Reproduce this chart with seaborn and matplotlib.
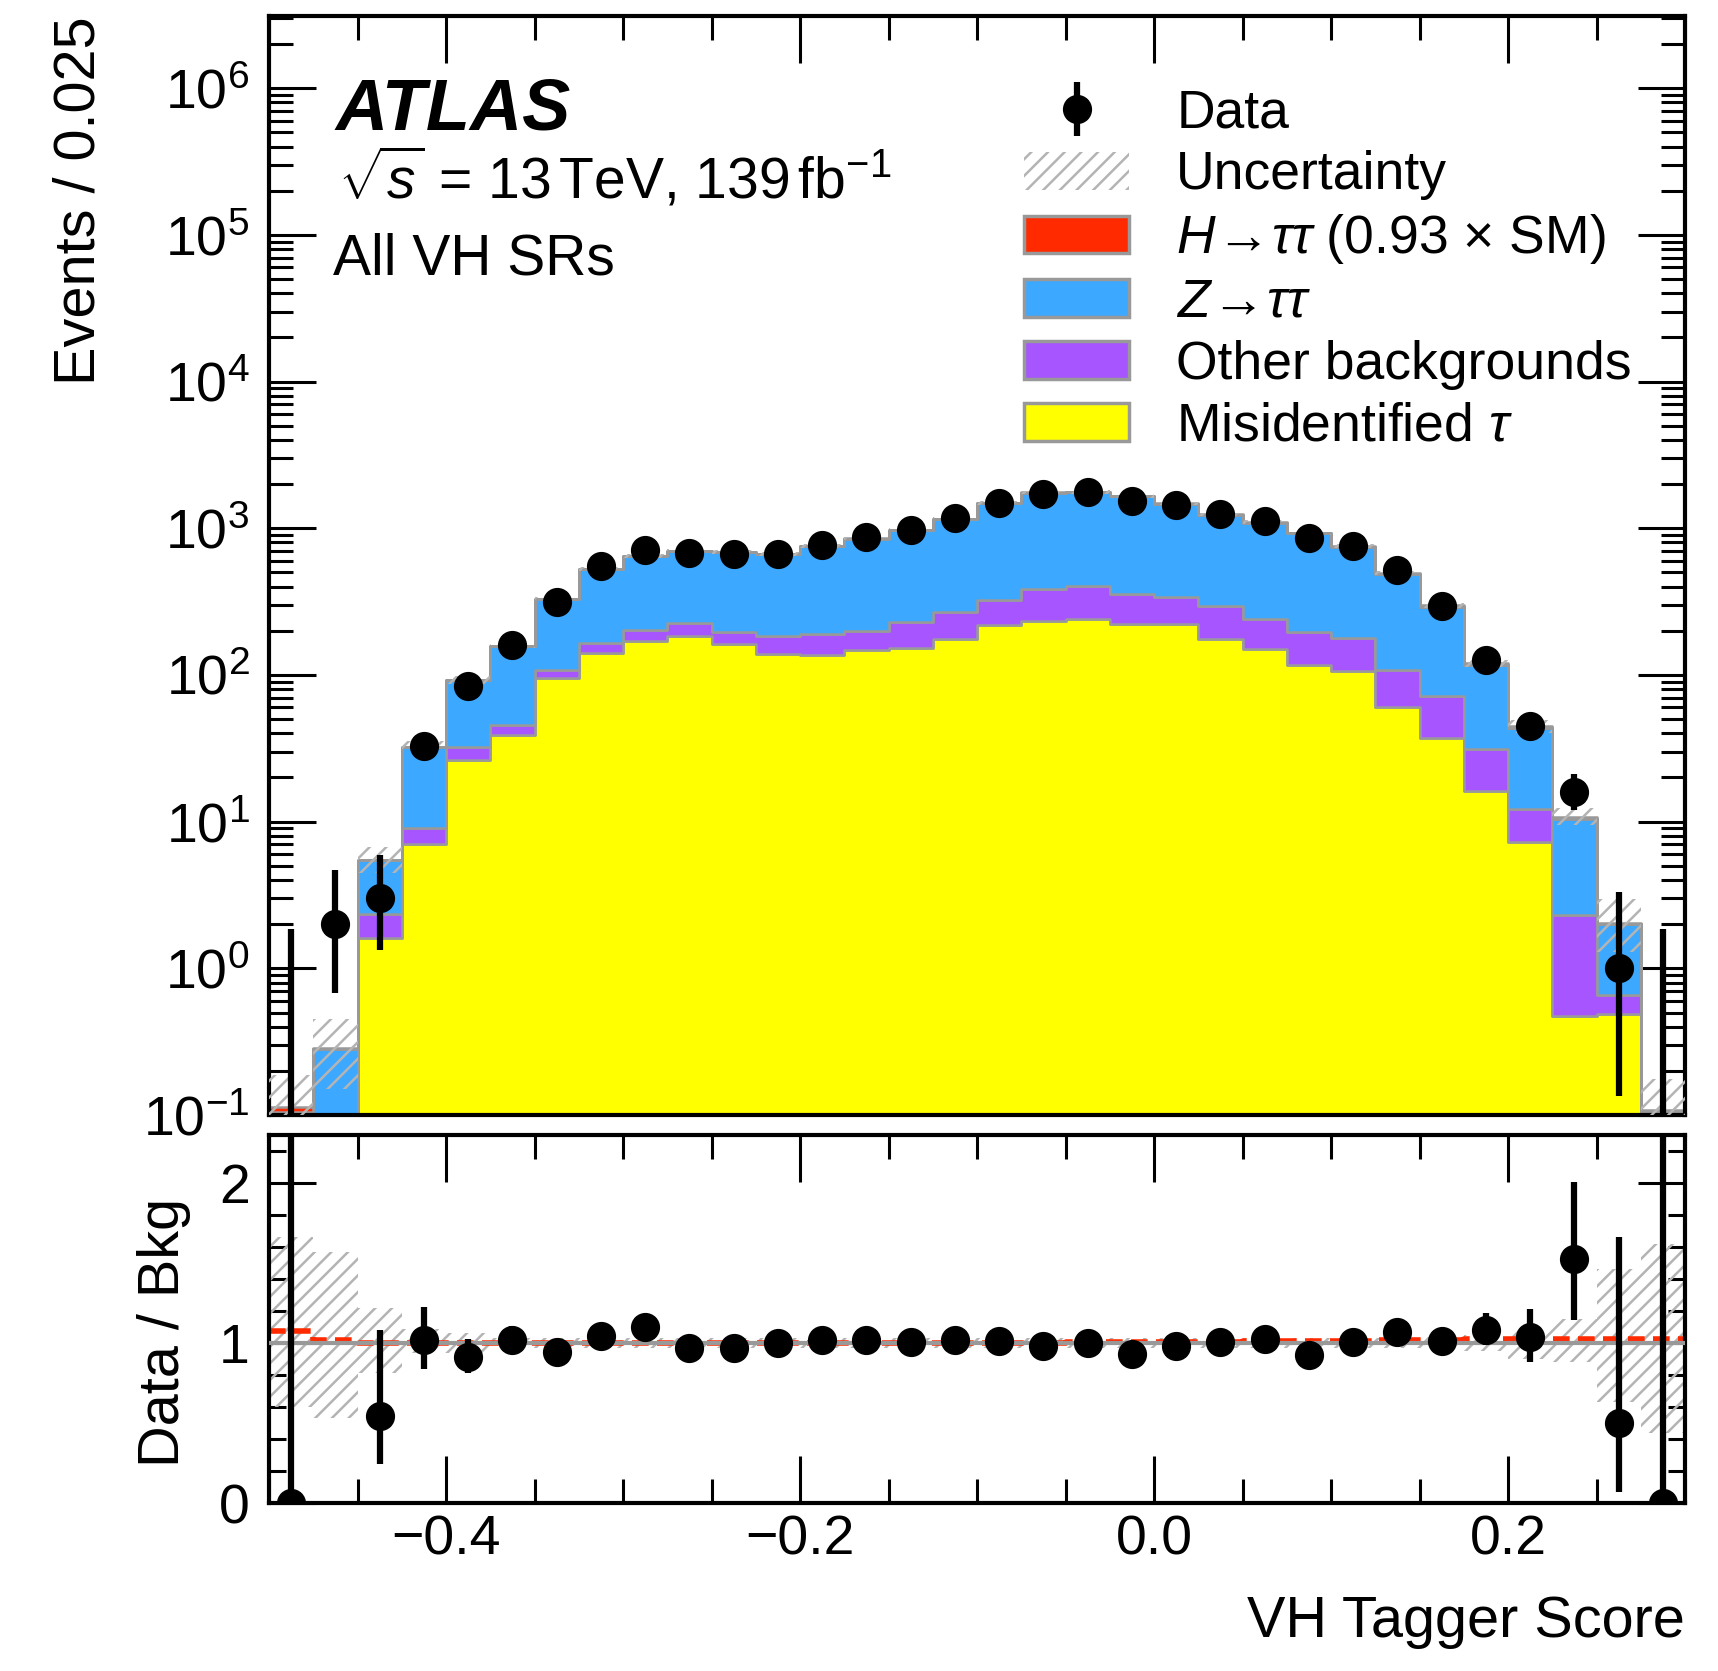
import numpy as np
import pandas as pd
import seaborn as sns
import matplotlib.pyplot as plt
from matplotlib.patches import Patch
from matplotlib.ticker import MultipleLocator, LogLocator, NullFormatter

# -----------------------------
# DATA
# -----------------------------

edges = np.linspace(-0.5, 0.3, 33)          # 32 bins of 0.025
centers = 0.5 * (edges[:-1] + edges[1:])

data = [0, 2, 3, 33, 84, 161, 313, 550, 707, 680, 665, 667, 773, 867, 980, 1178,
        1493, 1711, 1770, 1532, 1443, 1245, 1114, 855, 757, 521, 297, 127, 45, 16, 1, 0]

# stacked components (events per bin)
fake = [0, 0, 1.62, 7.08, 26.2, 38.9, 95, 141, 170, 184, 162, 139, 136, 148, 153, 176,
        218, 234, 242, 223, 223, 176, 151, 117, 106, 60.5, 37.3, 16.1, 7.31, 0.47, 0.49, 0]
other = [0, 0, 0.73, 1.95, 6.0, 6.9, 13, 25, 34, 42, 35, 45, 55, 51, 75, 92,
         106, 150, 161, 136, 117, 121, 88, 78, 72, 47.5, 34, 15, 4.9, 1.84, 0.17, 0]
ztt = [0.105, 0.28, 3.15, 23.4, 59.8, 112, 223, 362, 439, 476, 489, 483, 566, 650, 746, 886,
       1154, 1364, 1367, 1287, 1128, 936, 846, 727, 572, 378, 221, 86, 31.2, 8.19, 1.34, 0.105]
htt = [0.008, 0.006, 0.01, 0.05, 0.15, 0.3, 0.6, 1.0, 1.3, 1.5, 1.6, 1.7, 2.0, 2.4, 3.0, 3.5,
       4.5, 5.5, 6.5, 7.0, 7.5, 8.0, 12.0, 12.0, 11.0, 8.5, 6.0, 3.0, 1.2, 0.25, 0.05, 0.003]

# relative background uncertainty (up / down)
unc_up = [0.66, 0.57, 0.22, 0.09, 0.06, 0.03, 0.03, 0.03, 0.03, 0.03, 0.03, 0.03, 0.03, 0.03, 0.03, 0.03,
          0.03, 0.03, 0.03, 0.03, 0.03, 0.03, 0.03, 0.03, 0.03, 0.03, 0.04, 0.05, 0.10, 0.15, 0.46, 0.62]
unc_dn = [0.40, 0.47, 0.19, 0.06, 0.06, 0.03, 0.03, 0.03, 0.03, 0.03, 0.03, 0.03, 0.03, 0.03, 0.03, 0.03,
          0.03, 0.03, 0.03, 0.03, 0.03, 0.03, 0.03, 0.03, 0.03, 0.03, 0.04, 0.05, 0.10, 0.12, 0.37, 0.56]

proc_labels = [r"$H\!\rightarrow\!\tau\tau$ (0.93 $\times$ SM)", r"$Z\!\rightarrow\!\tau\tau$",
               "Other backgrounds", r"Misidentified $\tau$"]
proc_colors = ["#ff2a00", "#3da8ff", "#a655ff", "#ffff00"]

# -----------------------------
# STYLE
# -----------------------------

sns.set_theme(style="ticks", rc={"axes.edgecolor": "black", "xtick.color": "black",
                                 "ytick.color": "black", "text.color": "black",
                                 "axes.labelcolor": "black"})
plt.rcParams["font.family"] = ["Liberation Sans", "DejaVu Sans"]
plt.rcParams["mathtext.fontset"] = "custom"
plt.rcParams["mathtext.rm"] = "Liberation Sans"
plt.rcParams["mathtext.it"] = "Liberation Sans:italic"
plt.rcParams["mathtext.bf"] = "Liberation Sans:bold"
plt.rcParams["hatch.linewidth"] = 1.8

data = np.array(data, dtype=float)
bkg = np.array(fake) + np.array(other) + np.array(ztt)
sig = np.array(htt)
up = np.array(unc_up)
dn = np.array(unc_dn)

# Poisson (Garwood-like) error sizes on the data
err_up = 1 + np.sqrt(data + 0.75)
err_dn = np.where(data > 0, np.sqrt(np.clip(data - 0.25, 0, None)), 0)


def stepvals(v):
    v = np.asarray(v, dtype=float)
    return np.append(v, v[-1])


fig = plt.figure(figsize=(17.18, 16.71), dpi=100)
ax = fig.add_axes([0.1566, 0.3327, 0.8242, 0.6577])
rax = fig.add_axes([0.1566, 0.1005, 0.8242, 0.2202], sharex=ax)

# -----------------------------
# MAIN PANEL
# -----------------------------

stack_df = pd.DataFrame({
    "score": np.tile(centers, 4),
    "events": np.concatenate([htt, ztt, other, fake]),
    "process": np.repeat(proc_labels, len(centers)),
})
sns.histplot(data=stack_df, x="score", weights="events", hue="process",
             hue_order=proc_labels, palette=dict(zip(proc_labels, proc_colors)),
             bins=[float(e) for e in edges], multiple="stack", element="step", alpha=1,
             edgecolor="#999999", linewidth=1.8, legend=False, ax=ax)

tot = bkg + sig
ax.fill_between(edges, stepvals(tot * (1 - dn)), stepvals(tot * (1 + up)), step="post",
                facecolor="none", edgecolor="#b4b4b4", hatch="//", linewidth=0, zorder=3)

data_eb = ax.errorbar(centers, data, yerr=[err_dn, err_up], fmt="o", color="black",
                      ms=20, elinewidth=4.5, capsize=0, zorder=5)

ax.set_yscale("log")
ax.set_ylim(0.1, 3.1e6)
ax.set_xlim(-0.5, 0.3)
ax.yaxis.set_major_locator(LogLocator(base=10, numticks=20))
ax.yaxis.set_minor_locator(LogLocator(base=10, subs=np.arange(2, 10), numticks=100))
ax.yaxis.set_minor_formatter(NullFormatter())
ax.set_ylabel("Events / 0.025", fontsize=41.5, loc="top")
ax.yaxis.set_label_coords(-0.115, 1.0)
ax.set_xlabel("")
ax.tick_params(axis="x", labelbottom=False)

ax.text(0.047, 0.897, "ATLAS", transform=ax.transAxes, fontsize=52,
        fontweight="bold", fontstyle="italic", va="baseline")
ax.text(0.049, 0.834, r"$\sqrt{s}$ = 13$\,$TeV, 139$\,$fb$^{-1}$", transform=ax.transAxes,
        fontsize=41, va="baseline")
ax.text(0.045, 0.7645, "All VH SRs", transform=ax.transAxes, fontsize=41, va="baseline")

handles = [data_eb,
           Patch(facecolor="none", edgecolor="#b4b4b4", hatch="//", linewidth=0)]
handles += [Patch(facecolor=c, edgecolor="#999999", linewidth=2.5) for c in proc_colors]
labels = ["Data", "Uncertainty"] + proc_labels
ax.legend(handles, labels, loc="upper left", bbox_to_anchor=(0.5335, 0.934),
          frameon=False, fontsize=38.5, handlelength=1.96, handleheight=0.71,
          handletextpad=0.88, labelspacing=0.22, borderpad=0, borderaxespad=0)

# -----------------------------
# RATIO PANEL
# -----------------------------

rax.fill_between(edges, stepvals(1 - dn), stepvals(1 + up), step="post",
                 facecolor="none", edgecolor="#b4b4b4", hatch="//", linewidth=0, zorder=2)
rax.step(edges, stepvals((bkg + sig) / bkg), where="post", color="#ff2a00",
         lw=4, ls=(0, (3, 1.5)), zorder=2.5)
rax.axhline(1.0, color="#999999", lw=3, zorder=2.6)
rax.errorbar(centers, data / bkg, yerr=[err_dn / bkg, err_up / bkg], fmt="o", color="black",
             ms=20, elinewidth=4.5, capsize=0, zorder=5)

rax.set_ylim(0, 2.3)
rax.yaxis.set_major_locator(MultipleLocator(1))
rax.yaxis.set_minor_locator(MultipleLocator(0.2))
rax.set_ylabel("Data / Bkg", fontsize=41.5)
rax.yaxis.set_label_coords(-0.055, 0.465)
rax.set_xlabel("VH Tagger Score", fontsize=41.5, loc="right")
rax.xaxis.set_label_coords(1.0, -0.25)

for a in (ax, rax):
    a.xaxis.set_major_locator(MultipleLocator(0.2))
    a.xaxis.set_minor_locator(MultipleLocator(0.05))
    a.tick_params(which="both", direction="in", top=True, right=True, width=2.2,
                  labelsize=40)
    a.tick_params(which="major", length=34, pad=14)
    a.tick_params(which="minor", length=17)
    a.tick_params(axis="x", which="major", pad=8)
    for s in a.spines.values():
        s.set_linewidth(3)
        s.set_color("black")
rax.tick_params(axis="y", which="minor", length=12.5)

fig.savefig("out.png", dpi=100)
